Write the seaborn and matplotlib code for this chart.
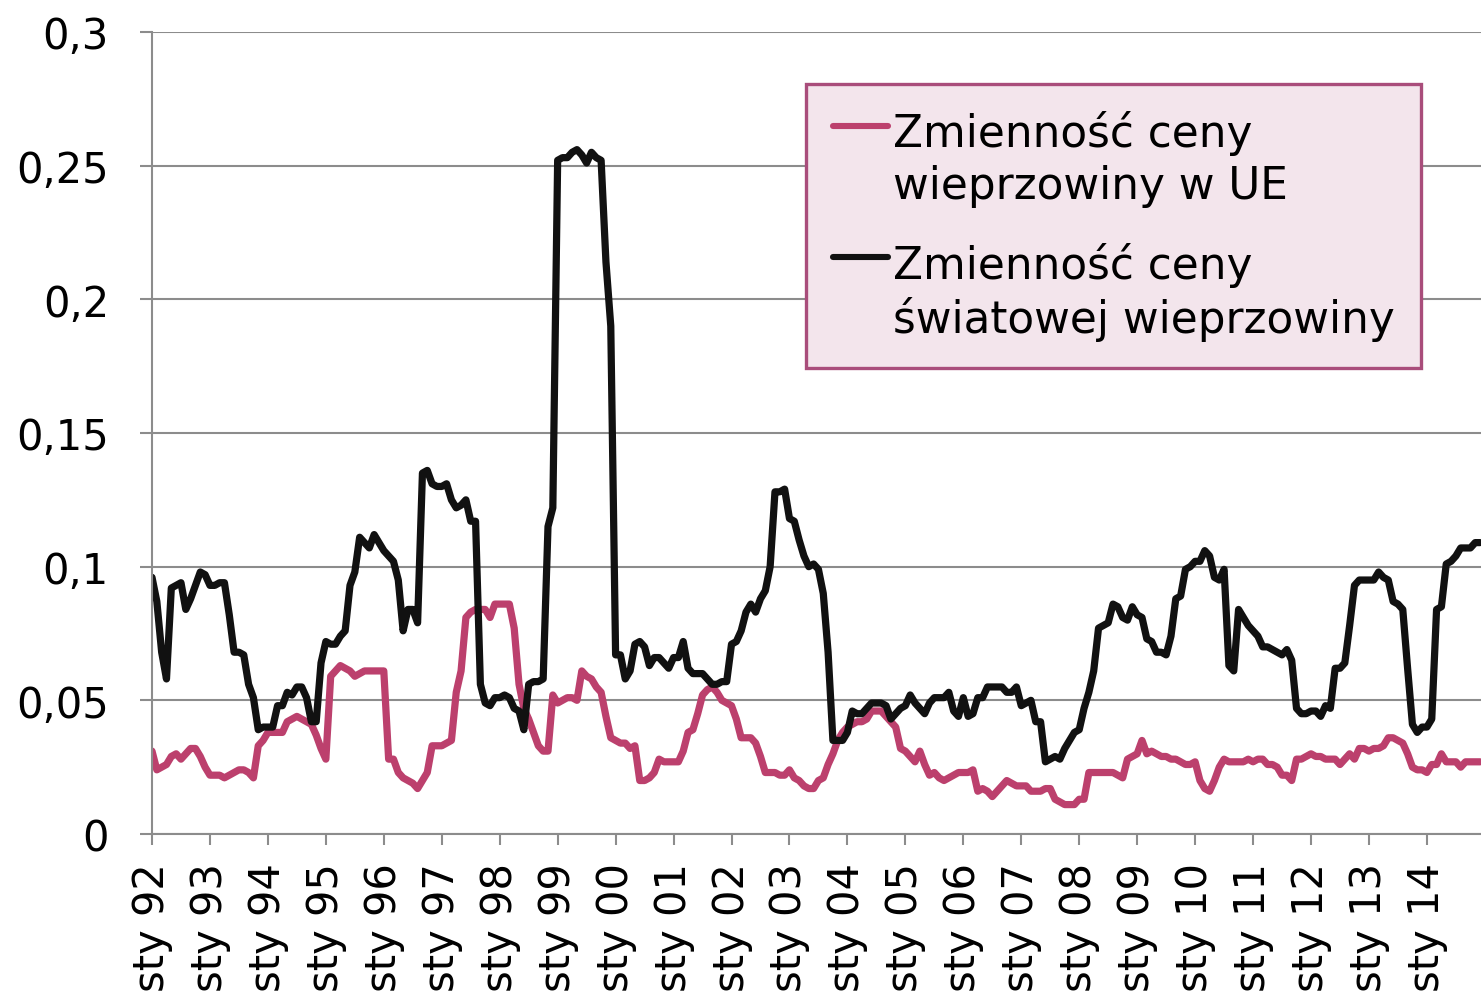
import matplotlib
matplotlib.use("Agg")
import matplotlib.pyplot as plt
import numpy as np
import pandas as pd
import seaborn as sns

# ---------------- data (monthly, Jan 1992 - Dec 2014) ----------------
eu_label = "Zmienność ceny\nwieprzowiny w UE"
world_label = "Zmienność ceny\nświatowej wieprzowiny"

eu_vol = [
    0.031, 0.024, 0.025, 0.026, 0.029, 0.030, 0.028, 0.030, 0.032, 0.032, 0.029, 0.025,  # 1992
    0.022, 0.022, 0.022, 0.021, 0.022, 0.023, 0.024, 0.024, 0.023, 0.021, 0.033, 0.035,  # 1993
    0.038, 0.038, 0.038, 0.038, 0.042, 0.043, 0.044, 0.043, 0.042, 0.041, 0.037, 0.032,  # 1994
    0.028, 0.059, 0.061, 0.063, 0.062, 0.061, 0.059, 0.060, 0.061, 0.061, 0.061, 0.061,  # 1995
    0.061, 0.028, 0.028, 0.023, 0.021, 0.020, 0.019, 0.017, 0.020, 0.023, 0.033, 0.033,  # 1996
    0.033, 0.034, 0.035, 0.053, 0.061, 0.081, 0.083, 0.084, 0.084, 0.084, 0.081, 0.086,  # 1997
    0.086, 0.086, 0.086, 0.077, 0.056, 0.047, 0.043, 0.038, 0.033, 0.031, 0.031, 0.052,  # 1998
    0.049, 0.050, 0.051, 0.051, 0.050, 0.061, 0.059, 0.058, 0.055, 0.053, 0.044, 0.036,  # 1999
    0.035, 0.034, 0.034, 0.032, 0.033, 0.020, 0.020, 0.021, 0.023, 0.028, 0.027, 0.027,  # 2000
    0.027, 0.027, 0.031, 0.038, 0.039, 0.045, 0.052, 0.054, 0.055, 0.053, 0.050, 0.049,  # 2001
    0.048, 0.043, 0.036, 0.036, 0.036, 0.034, 0.029, 0.023, 0.023, 0.023, 0.022, 0.022,  # 2002
    0.024, 0.021, 0.020, 0.018, 0.017, 0.017, 0.020, 0.021, 0.026, 0.030, 0.035, 0.038,  # 2003
    0.040, 0.041, 0.042, 0.042, 0.043, 0.046, 0.046, 0.046, 0.044, 0.042, 0.040, 0.032,  # 2004
    0.031, 0.029, 0.027, 0.031, 0.026, 0.022, 0.023, 0.021, 0.020, 0.021, 0.022, 0.023,  # 2005
    0.023, 0.023, 0.024, 0.016, 0.017, 0.016, 0.014, 0.016, 0.018, 0.020, 0.019, 0.018,  # 2006
    0.018, 0.018, 0.016, 0.016, 0.016, 0.017, 0.017, 0.013, 0.012, 0.011, 0.011, 0.011,  # 2007
    0.013, 0.013, 0.023, 0.023, 0.023, 0.023, 0.023, 0.023, 0.022, 0.021, 0.028, 0.029,  # 2008
    0.030, 0.035, 0.030, 0.031, 0.030, 0.029, 0.029, 0.028, 0.028, 0.027, 0.026, 0.026,  # 2009
    0.027, 0.020, 0.017, 0.016, 0.020, 0.025, 0.028, 0.027, 0.027, 0.027, 0.027, 0.028,  # 2010
    0.027, 0.028, 0.028, 0.026, 0.026, 0.025, 0.022, 0.022, 0.020, 0.028, 0.028, 0.029,  # 2011
    0.030, 0.029, 0.029, 0.028, 0.028, 0.028, 0.026, 0.028, 0.030, 0.028, 0.032, 0.032,  # 2012
    0.031, 0.032, 0.032, 0.033, 0.036, 0.036, 0.035, 0.034, 0.030, 0.025, 0.024, 0.024,  # 2013
    0.023, 0.026, 0.026, 0.030, 0.027, 0.027, 0.027, 0.025, 0.027, 0.027, 0.027, 0.027,  # 2014
]

world_vol = [
    0.096, 0.087, 0.068, 0.058, 0.092, 0.093, 0.094, 0.084, 0.088, 0.093, 0.098, 0.097,  # 1992
    0.093, 0.093, 0.094, 0.094, 0.082, 0.068, 0.068, 0.067, 0.056, 0.051, 0.039, 0.040,  # 1993
    0.040, 0.040, 0.048, 0.048, 0.053, 0.052, 0.055, 0.055, 0.051, 0.042, 0.042, 0.064,  # 1994
    0.072, 0.071, 0.071, 0.074, 0.076, 0.093, 0.098, 0.111, 0.109, 0.107, 0.112, 0.109,  # 1995
    0.106, 0.104, 0.102, 0.095, 0.076, 0.084, 0.084, 0.079, 0.135, 0.136, 0.131, 0.130,  # 1996
    0.130, 0.131, 0.125, 0.122, 0.123, 0.125, 0.117, 0.117, 0.056, 0.049, 0.048, 0.051,  # 1997
    0.051, 0.052, 0.051, 0.047, 0.046, 0.039, 0.056, 0.057, 0.057, 0.058, 0.115, 0.122,  # 1998
    0.252, 0.253, 0.253, 0.255, 0.256, 0.254, 0.251, 0.255, 0.253, 0.252, 0.214, 0.190,  # 1999
    0.067, 0.067, 0.058, 0.061, 0.071, 0.072, 0.070, 0.063, 0.066, 0.066, 0.064, 0.062,  # 2000
    0.066, 0.066, 0.072, 0.062, 0.060, 0.060, 0.060, 0.058, 0.056, 0.056, 0.057, 0.057,  # 2001
    0.071, 0.072, 0.076, 0.083, 0.086, 0.083, 0.088, 0.091, 0.100, 0.128, 0.128, 0.129,  # 2002
    0.118, 0.117, 0.110, 0.104, 0.100, 0.101, 0.099, 0.090, 0.068, 0.035, 0.035, 0.035,  # 2003
    0.038, 0.046, 0.045, 0.045, 0.047, 0.049, 0.049, 0.049, 0.048, 0.043, 0.045, 0.047,  # 2004
    0.048, 0.052, 0.049, 0.047, 0.045, 0.049, 0.051, 0.051, 0.051, 0.053, 0.046, 0.044,  # 2005
    0.051, 0.044, 0.045, 0.051, 0.051, 0.055, 0.055, 0.055, 0.055, 0.053, 0.053, 0.055,  # 2006
    0.048, 0.049, 0.050, 0.042, 0.042, 0.027, 0.028, 0.029, 0.028, 0.032, 0.035, 0.038,  # 2007
    0.039, 0.047, 0.053, 0.061, 0.077, 0.078, 0.079, 0.086, 0.085, 0.081, 0.080, 0.085,  # 2008
    0.082, 0.081, 0.073, 0.072, 0.068, 0.068, 0.067, 0.074, 0.088, 0.089, 0.099, 0.100,  # 2009
    0.102, 0.102, 0.106, 0.104, 0.096, 0.095, 0.099, 0.063, 0.061, 0.084, 0.081, 0.078,  # 2010
    0.076, 0.074, 0.070, 0.070, 0.069, 0.068, 0.067, 0.069, 0.065, 0.047, 0.045, 0.045,  # 2011
    0.046, 0.046, 0.044, 0.048, 0.047, 0.062, 0.062, 0.064, 0.078, 0.093, 0.095, 0.095,  # 2012
    0.095, 0.095, 0.098, 0.096, 0.095, 0.087, 0.086, 0.084, 0.062, 0.041, 0.038, 0.040,  # 2013
    0.040, 0.043, 0.084, 0.085, 0.101, 0.102, 0.104, 0.107, 0.107, 0.107, 0.109, 0.109,  # 2014
]

x_tick_labels = ["sty 92", "sty 93", "sty 94", "sty 95", "sty 96", "sty 97", "sty 98",
                 "sty 99", "sty 00", "sty 01", "sty 02", "sty 03", "sty 04", "sty 05",
                 "sty 06", "sty 07", "sty 08", "sty 09", "sty 10", "sty 11", "sty 12",
                 "sty 13", "sty 14"]
y_ticks = [0, 0.05, 0.1, 0.15, 0.2, 0.25, 0.3]
y_tick_labels = ["0", "0,05", "0,1", "0,15", "0,2", "0,25", "0,3"]

# ---------------- build long table ----------------
month = np.arange(len(eu_vol))
df = pd.concat([
    pd.DataFrame({"month": month, "value": eu_vol, "series": eu_label}),
    pd.DataFrame({"month": month, "value": world_vol, "series": world_label}),
], ignore_index=True)

# ---------------- style ----------------
sns.set_theme(style="white")
plt.rcParams["font.family"] = ["DejaVu Sans"]

PINK = "#BC406D"
BLACK = "#111111"
GRID = "#8C8C8C"
FS = 30
LEG_FS = 31.5

fig = plt.figure(figsize=(14.81, 9.95), dpi=100)
ax = fig.add_axes([152 / 1481, 1 - 835 / 995, (1481 - 152) / 1481, (835 - 33) / 995])

sns.lineplot(data=df, x="month", y="value", hue="series",
             hue_order=[eu_label, world_label], palette=[PINK, BLACK],
             linewidth=5.2, estimator=None, sort=False, ax=ax)

ax.set_xlim(0, 275.2)
ax.set_ylim(0, 0.3)
ax.set_xlabel("")
ax.set_ylabel("")

ax.set_yticks(y_ticks)
ax.set_yticklabels(y_tick_labels, fontsize=FS, color="black")
ax.set_xticks(np.arange(0, 12 * len(x_tick_labels), 12))
ax.set_xticklabels(x_tick_labels, fontsize=FS, rotation=90, color="black")

ax.yaxis.grid(True, color=GRID, linewidth=1.5)
ax.xaxis.grid(False)
ax.set_axisbelow(True)

for s in ["top", "right"]:
    ax.spines[s].set_visible(False)
for s in ["left", "bottom"]:
    ax.spines[s].set_color(GRID)
    ax.spines[s].set_linewidth(1.5)

ax.tick_params(axis="x", direction="out", length=8, width=1.5, color=GRID, pad=12,
               bottom=True)
ax.tick_params(axis="y", direction="out", length=9, width=1.5, color=GRID, pad=22,
               left=True)

# ---------------- legend ----------------
old = ax.get_legend()
handles = old.legend_handles
labels = [t.get_text() for t in old.get_texts()]
old.remove()
leg = ax.legend(handles, labels, loc="upper right",
                bbox_to_anchor=(1421 / 1481, 1 - 85 / 995),
                bbox_transform=fig.transFigure, borderaxespad=0,
                fontsize=LEG_FS, handlelength=1.26, handletextpad=0.12,
                labelspacing=0.8, borderpad=0.6, frameon=True,
                fancybox=False, framealpha=1, facecolor="#F3E5EC",
                edgecolor="#A94D7B")
leg.get_frame().set_linewidth(2.4)
for t in leg.get_texts():
    t.set_linespacing(1.26)
    t.set_color("black")
for ln, c in zip(leg.get_lines(), [PINK, BLACK]):
    ln.set_linewidth(4.4)
    ln.set_color(c)
try:
    for col in leg._legend_handle_box.get_children():
        for hp in col.get_children():
            hp.align = "top"
except Exception:
    pass

fig.savefig("out.png", dpi=100)
